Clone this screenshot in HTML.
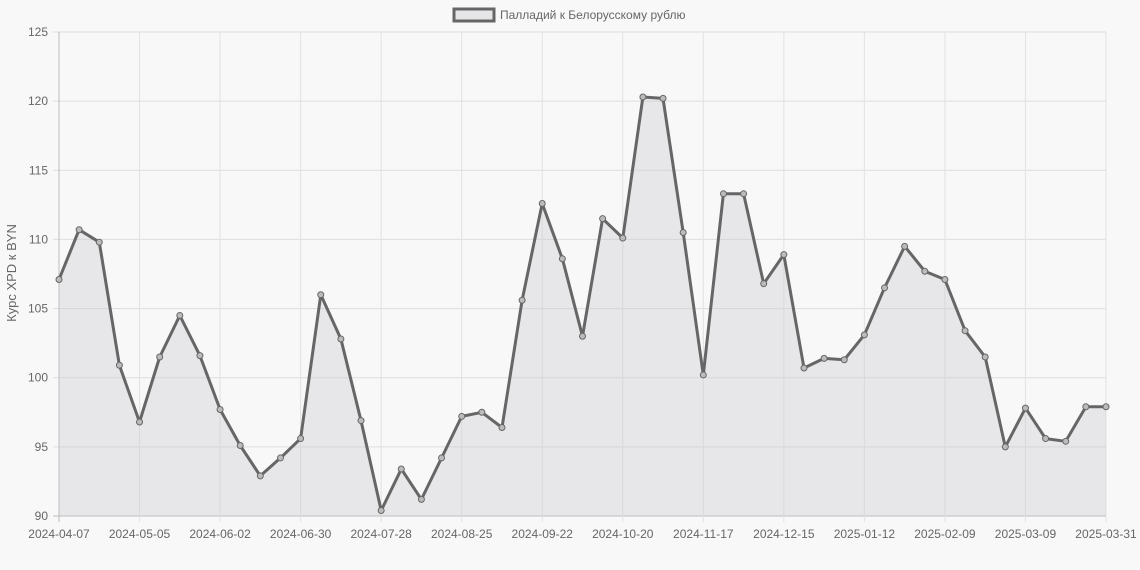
<!DOCTYPE html>
<html><head><meta charset="utf-8"><style>
body{margin:0;background:#f8f8f8;}
svg{display:block;font-family:"Liberation Sans",sans-serif;}
</style></head><body>
<svg id="c" width="1140" height="570" xmlns="http://www.w3.org/2000/svg"></svg>
<script>
var d=[107.1,110.7,109.8,100.9,96.8,101.5,104.5,101.6,97.7,95.1,92.9,94.2,95.6,106.0,102.8,96.9,90.4,93.4,91.2,94.2,97.2,97.5,96.4,105.6,112.6,108.6,103.0,111.5,110.1,120.3,120.2,110.5,100.2,113.3,113.3,106.8,108.9,100.7,101.4,101.3,103.1,106.5,109.5,107.7,107.1,103.4,101.5,95.0,97.8,95.6,95.4,97.9,97.9];
var L=59,R=1106,T=32,B=516;
function X(i){return L+(R-L)*i/(d.length-1);}
function Y(v){return B-(v-90)/35*(B-T);}
var s='';
s+='<rect x="0" y="0" width="1140" height="570" fill="#f8f8f8"/>';
for(var v=90;v<=125;v+=5){var y=Y(v);s+='<line x1="'+(L-6)+'" x2="'+R+'" y1="'+y+'" y2="'+y+'" stroke="'+(v==90?'#bbb':'#ddd')+'"/>';
s+='<text x="48" y="'+(y+4)+'" font-size="12" fill="#666" text-anchor="end">'+v+'</text>';}
var labs=['2024-04-07','2024-05-05','2024-06-02','2024-06-30','2024-07-28','2024-08-25','2024-09-22','2024-10-20','2024-11-17','2024-12-15','2025-01-12','2025-02-09','2025-03-09','2025-03-31'];
for(var k=0;k<14;k++){var i=k<13?k*4:52;var x=X(i);
s+='<line x1="'+x+'" x2="'+x+'" y1="'+T+'" y2="'+(B+6)+'" stroke="'+(k==0?'#bbb':'#e2e2e2')+'"/>';
s+='<text x="'+x+'" y="538" font-size="12" fill="#666" text-anchor="middle">'+labs[k]+'</text>';}
var p='';for(var i=0;i<d.length;i++)p+=(i?' L':'M')+X(i).toFixed(1)+' '+Y(d[i]).toFixed(1);
s+='<path d="'+p+' L'+R+' '+B+' L'+L+' '+B+' Z" fill="rgba(200,200,205,0.35)"/>';
s+='<path d="'+p+'" fill="none" stroke="#666" stroke-width="3" stroke-linejoin="round"/>';
for(var i=0;i<d.length;i++)s+='<circle cx="'+X(i)+'" cy="'+Y(d[i])+'" r="3" fill="#bbb" stroke="#666" stroke-width="1"/>';
s+='<rect x="454" y="9" width="40" height="12" fill="#e6e6e8" stroke="#666" stroke-width="3"/>';
s+='<text x="500" y="19" font-size="12" fill="#666">Палладий к Белорусскому рублю</text>';
s+='<text transform="translate(16,273) rotate(-90)" font-size="13" fill="#666" text-anchor="middle">Курс XPD к BYN</text>';
document.getElementById('c').innerHTML=s;
</script>
</body></html>
